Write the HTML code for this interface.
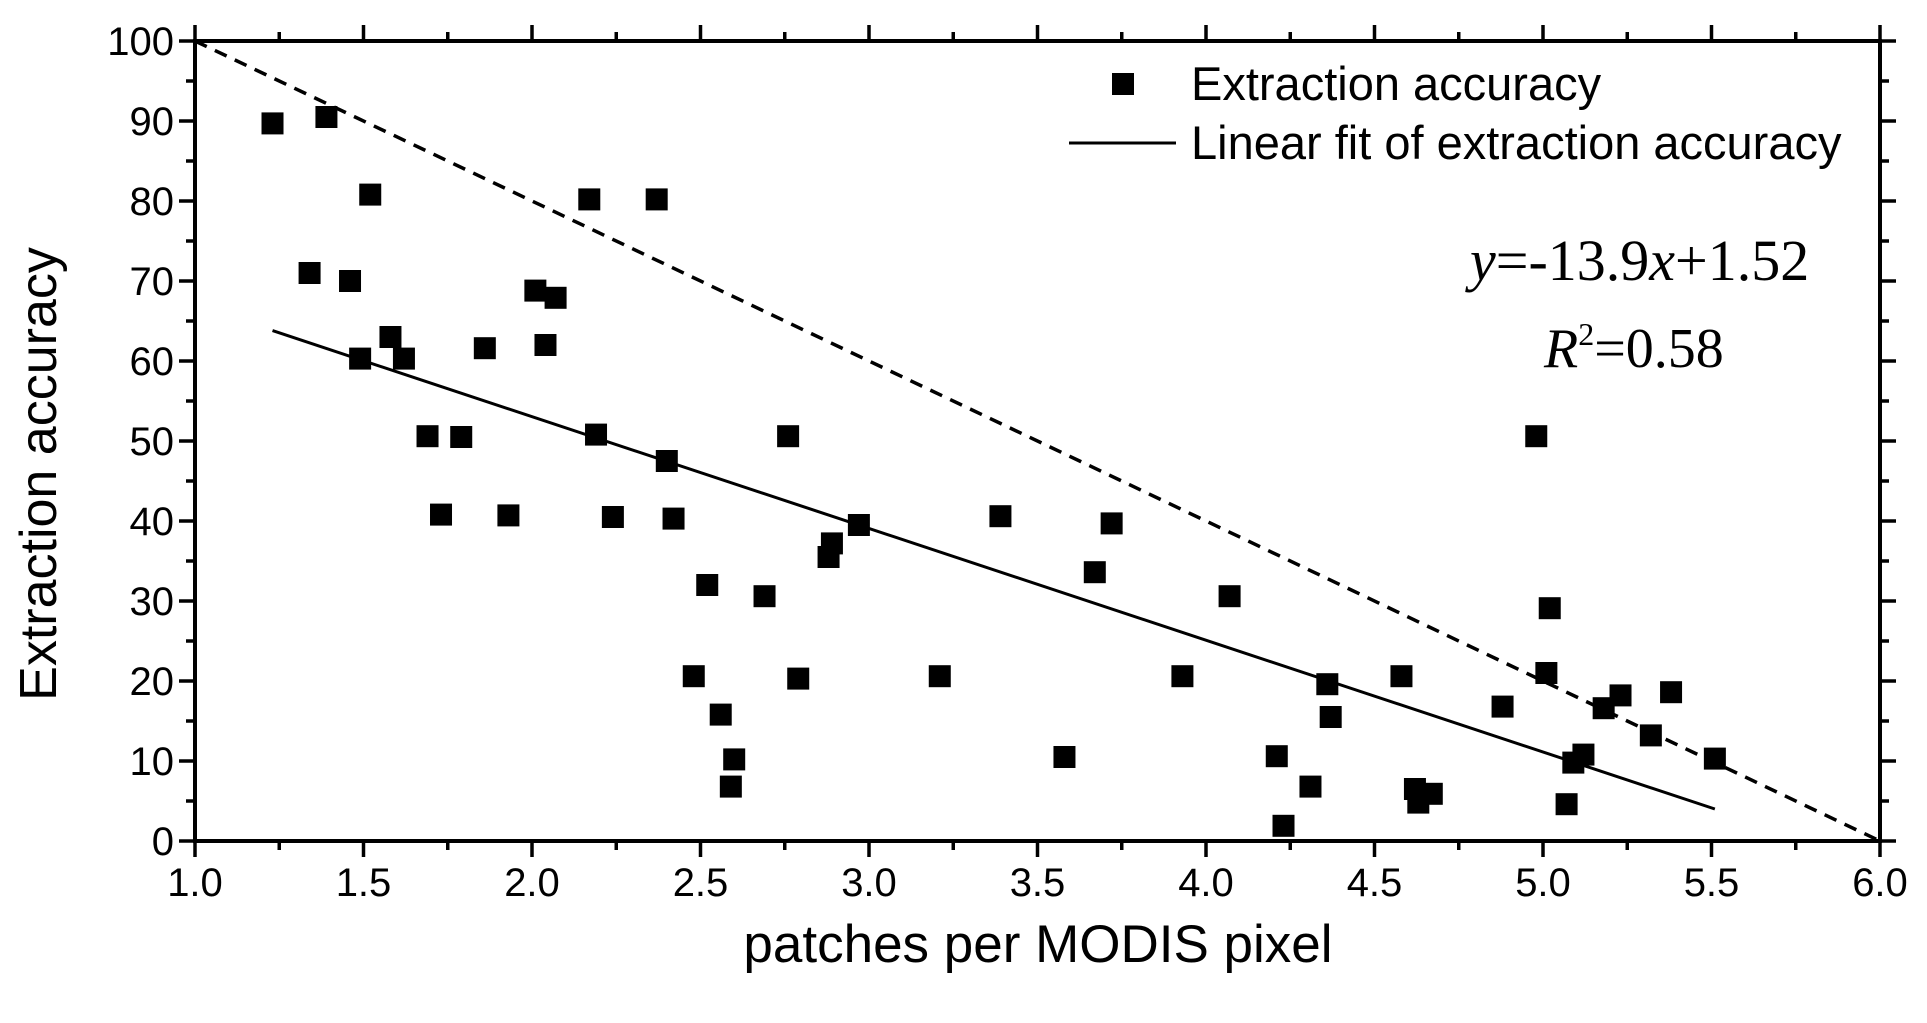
<!DOCTYPE html>
<html><head><meta charset="utf-8"><style>
html,body{margin:0;padding:0;background:#fff;}
svg{display:block;}
text{font-family:"Liberation Sans",sans-serif;fill:#000;}
</style></head><body>
<svg id="chart" width="1927" height="1023" viewBox="0 0 1927 1023" xmlns="http://www.w3.org/2000/svg"></svg>
<script>
const xs = [1.23,1.34,1.39,1.46,1.49,1.52,1.58,1.62,1.69,1.73,1.79,1.86,1.93,2.01,2.04,2.07,2.17,2.19,2.24,2.37,2.40,2.42,2.48,2.52,2.56,2.59,2.60,2.69,2.76,2.79,2.88,2.89,2.97,3.21,3.39,3.58,3.67,3.72,3.93,4.07,4.21,4.23,4.31,4.36,4.37,4.58,4.62,4.63,4.67,4.88,4.98,5.01,5.02,5.07,5.09,5.12,5.18,5.23,5.32,5.38,5.51];
const ys = [89.7,71,90.5,70,60.3,80.8,63,60.3,50.6,40.8,50.5,61.6,40.7,68.8,62,67.9,80.2,50.8,40.5,80.2,47.5,40.3,20.6,32,15.8,6.8,10.2,30.6,50.6,20.3,35.5,37.2,39.5,20.6,40.6,10.5,33.6,39.7,20.6,30.6,10.6,1.9,6.8,19.6,15.5,20.6,6.5,4.8,5.9,16.8,50.6,21,29.1,4.6,9.8,10.8,16.6,18.2,13.2,18.6,10.3];
const fitX = [1.23,5.51];
const fitY = [63.8,4.0];
const refX = [1.0,6.0];
const refY = [100,0];
const xTicks = ["1.0","1.5","2.0","2.5","3.0","3.5","4.0","4.5","5.0","5.5","6.0"];
const yTicks = ["0","10","20","30","40","50","60","70","80","90","100"];

const L=195,R=1880,T=41,B=841;
const sx=v=>L+(v-1)/5*(R-L);
const sy=v=>B-v/100*(B-T);
const svg=document.getElementById('chart');
const NS='http://www.w3.org/2000/svg';
function mk(tag,a,parent){const e=document.createElementNS(NS,tag);for(const k in a)e.setAttribute(k,a[k]);(parent||svg).appendChild(e);return e;}

for(let i=0;i<=20;i++){
  const v=1+i*0.25, x=sx(v), len=(i%2===0)?16:9;
  let t=mk('line',{x1:x,y1:B,x2:x,y2:B+len,stroke:'#000','stroke-width':3.5});
  
  
  t=mk('line',{x1:x,y1:T,x2:x,y2:T-len,stroke:'#000','stroke-width':3.5});
  
  
}
for(let i=0;i<=20;i++){
  const v=i*5, y=sy(v), len=(i%2===0)?16:9;
  let t=mk('line',{x1:L,y1:y,x2:L-len,y2:y,stroke:'#000','stroke-width':3.5});
  
  
  t=mk('line',{x1:R,y1:y,x2:R+len,y2:y,stroke:'#000','stroke-width':3.5});
  
  
}
xTicks.forEach(s=>{
  const t=mk('text',{x:sx(parseFloat(s)),y:896,'text-anchor':'middle','font-size':40});
  t.textContent=s;
  
  
});
yTicks.forEach(s=>{
  const t=mk('text',{x:174,y:sy(parseFloat(s))+14,'text-anchor':'end','font-size':40});
  t.textContent=s;
  
  
});

let ref=mk('line',{x1:sx(refX[0]),y1:sy(refY[0]),x2:sx(refX[1]),y2:sy(refY[1]),stroke:'#000','stroke-width':3.5,'stroke-dasharray':'13,9'});


let fit=mk('line',{x1:sx(fitX[0]),y1:sy(fitY[0]),x2:sx(fitX[1]),y2:sy(fitY[1]),stroke:'#000','stroke-width':3});



const S=22;
xs.forEach((xv,i)=>{
  const p=mk('rect',{x:sx(xv)-S/2,y:sy(ys[i])-S/2,width:S,height:S,fill:'#000'});
  
  
});

let fr=mk('rect',{x:L,y:T,width:R-L,height:B-T,fill:'none',stroke:'#000','stroke-width':4});



let lm=mk('rect',{x:1112,y:73,width:22,height:22,fill:'#000'});


let lt=mk('text',{x:1191,y:100,'font-size':47});
lt.textContent='Extraction accuracy';


let ll=mk('line',{x1:1069,y1:143,x2:1176,y2:143,stroke:'#000','stroke-width':3});


let lt2=mk('text',{x:1191,y:159,'font-size':47});
lt2.textContent='Linear fit of extraction accuracy';



const eq=mk('text',{x:1470,y:280,'font-size':58,'style':'font-family:"Liberation Serif",serif'});
eq.innerHTML='<tspan font-style="italic">y</tspan>=-13.9<tspan font-style="italic">x</tspan>+1.52';


const r2=mk('text',{x:1544,y:367,'font-size':56,'style':'font-family:"Liberation Serif",serif'});
r2.innerHTML='<tspan font-style="italic">R</tspan><tspan font-size="32" dy="-22">2</tspan><tspan dy="22">=0.58</tspan>';



const xt=mk('text',{x:1038,y:962,'text-anchor':'middle','font-size':53});
xt.textContent='patches per MODIS pixel';


const yt=mk('text',{x:0,y:0,'text-anchor':'middle','font-size':52,transform:'translate(56,474) rotate(-90)'});
yt.textContent='Extraction accuracy';


</script>
</body></html>
